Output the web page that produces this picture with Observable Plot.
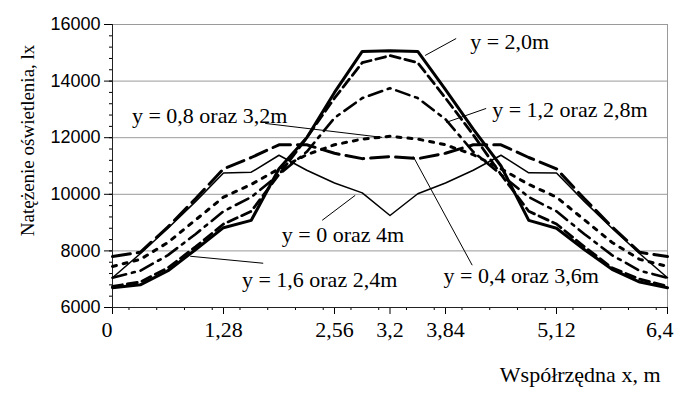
<!DOCTYPE html>
<html><head><meta charset="utf-8">
<script src="https://cdn.jsdelivr.net/npm/d3@7"></script>
<script src="https://cdn.jsdelivr.net/npm/@observablehq/plot@0.6"></script>
<style>
html,body{margin:0;padding:0;background:#fff;}
</style></head><body><div id="chart"></div>
<script>
// x coordinate (m)
const xs = [0, 0.32, 0.64, 0.96, 1.28, 1.6, 1.92, 2.24, 2.56, 2.88, 3.2, 3.52, 3.84, 4.16, 4.48, 4.8, 5.12, 5.44, 5.76, 6.08, 6.4];
// illuminance (lx) for each y
const y20 = [6700, 6800, 7300, 8050, 8820, 9080, 10900, 12000, 13600, 15050, 15070, 15050, 13700, 12300, 11000, 9080, 8800, 8050, 7350, 6900, 6700];
const y16 = [6750, 6900, 7400, 8150, 8950, 9400, 10700, 12000, 13400, 14650, 14900, 14650, 13400, 12100, 10700, 9400, 8950, 8150, 7400, 7000, 6750];
const y12 = [7050, 7300, 7850, 8600, 9400, 9900, 10700, 11500, 12700, 13400, 13750, 13400, 12650, 11500, 10700, 9900, 9400, 8600, 7850, 7300, 7050];
const y08 = [7450, 7700, 8300, 9100, 9900, 10350, 10900, 11400, 11750, 11950, 12050, 11950, 11750, 11400, 10900, 10350, 9900, 9100, 8300, 7700, 7450];
const y04 = [7800, 7950, 8850, 9850, 10900, 11300, 11750, 11750, 11450, 11260, 11330, 11260, 11450, 11750, 11750, 11300, 10900, 9850, 8850, 7950, 7800];
const y00 = [7050, 7900, 8800, 9750, 10750, 10780, 11380, 10850, 10400, 10050, 9250, 10020, 10400, 10850, 11380, 10760, 10750, 9750, 8800, 7900, 7050];

const seriesNames = ["y = 2,0m", "y = 1,6 oraz 2,4m", "y = 1,2 oraz 2,8m", "y = 0,8 oraz 3,2m", "y = 0,4 oraz 3,6m", "y = 0 oraz 4m"];
const seriesValues = [y20, y16, y12, y08, y04, y00];

// axis ticks
const xTickValues = [0, 1.28, 2.56, 3.2, 3.84, 5.12, 6.4];
const xTickLabels = ["0", "1,28", "2,56", "3,2", "3,84", "5,12", "6,4"];
const yTickValues = [6000, 8000, 10000, 12000, 14000, 16000];
const yGridValues = [8000, 10000, 12000, 14000, 16000];
const yMinorTicks = d3.range(6000, 16001, 400);
const xMinorTicks = d3.range(0, 20).map(k => 0.19 + 0.32 * k);

// annotations: label position and leader line (data coordinates)
const annLabels = ["y = 2,0m", "y = 1,2 oraz 2,8m", "y = 0,8 oraz 3,2m", "y = 0 oraz 4m", "y = 1,6 oraz 2,4m", "y = 0,4 oraz 3,6m"];
const annX = [4.124, 4.378, 0.224, 1.953, 1.492, 3.817];
const annY = [15374, 12963, 12769, 8552, 6964, 7122];
const leadX1 = [3.605, 3.848, 1.761, 2.418, 0.896, 3.467];
const leadY1 = [14905, 12540, 12505, 9081, 7811, 11340];
const leadX2 = [3.963, 4.309, 3.110, 2.799, 1.738, 4.148];
const leadY2 = [15505, 13034, 12011, 9964, 7564, 7493];

const xTitle = "Współrzędna x, m";
const yTitle = "Natężenie oświetlenia, lx";

const styles = {
  "y = 2,0m": {w: 3, dash: null},
  "y = 1,6 oraz 2,4m": {w: 2.8, dash: "10,5"},
  "y = 1,2 oraz 2,8m": {w: 2.6, dash: "14,6,3,6"},
  "y = 0,8 oraz 3,2m": {w: 3, dash: "4,7"},
  "y = 0,4 oraz 3,6m": {w: 3, dash: "18,7"},
  "y = 0 oraz 4m": {w: 1.5, dash: null}
};

const rows = seriesNames.flatMap((name, s) => xs.map((x, i) => ({name, x, v: seriesValues[s][i]})));
const anns = annLabels.map((t, i) => ({t, x: annX[i], y: annY[i], x1: leadX1[i], y1: leadY1[i], x2: leadX2[i], y2: leadY2[i]}));
const ticks = xTickValues.map((v, i) => ({v, t: xTickLabels[i]}));

const serif = "Liberation Serif, Times New Roman, serif";
const lineMarks = seriesNames.map(name => Plot.line(rows.filter(d => d.name === name), {
  x: "x", y: "v", stroke: "black", strokeWidth: styles[name].w,
  strokeDasharray: styles[name].dash || undefined
}));

const chart = Plot.plot({
  width: 675, height: 396,
  marginLeft: 112, marginRight: 8, marginTop: 24, marginBottom: 89,
  x: {domain: [0, 6.4]},
  y: {domain: [6000, 16000]},
  style: {background: "white", color: "black", fontFamily: serif},
  marks: [
    Plot.gridY(yGridValues, {stroke: "#9a9a9a", strokeOpacity: 1, strokeWidth: 1}),
    Plot.ruleX([6.4], {stroke: "#9a9a9a"}),
    Plot.axisY({ticks: yMinorTicks, tickSize: 3, tickFormat: () => "", label: null}),
    Plot.axisY({ticks: yTickValues, tickSize: 8, tickPadding: 4, tickFormat: d3.format("d"), fontFamily: "Liberation Sans, Arial, sans-serif", fontSize: 18, label: null}),
    Plot.axisX({ticks: xMinorTicks, tickSize: 3, tickFormat: () => "", label: null}),
    Plot.axisX({ticks: xTickValues, tickSize: 7, tickFormat: () => "", label: null}),
    Plot.ruleY([6000], {stroke: "#222"}),
    Plot.ruleX([0], {stroke: "#222"}),
    ...lineMarks,
    Plot.link(anns, {x1: "x1", y1: "y1", x2: "x2", y2: "y2", stroke: "black", strokeWidth: 1}),
    Plot.text(anns, {x: "x", y: "y", text: "t", textAnchor: "start", fontSize: 22, fontFamily: serif, fill: "black"}),
    Plot.text(ticks.slice(1, 6), {x: "v", text: "t", frameAnchor: "bottom", dy: 29, fontSize: 22, fontFamily: serif, fill: "black"}),
    Plot.text(ticks.slice(0, 1), {x: "v", text: "t", frameAnchor: "bottom", dy: 29, dx: 0, textAnchor: "end", fontSize: 22, fontFamily: serif, fill: "black"}),
    Plot.text(ticks.slice(6), {x: "v", text: "t", frameAnchor: "bottom", dy: 29, dx: 6, textAnchor: "end", fontSize: 22, fontFamily: serif, fill: "black"}),
    Plot.text([xTitle], {frameAnchor: "bottom-right", dx: -7, dy: 74, textAnchor: "end", fontSize: 22, fontFamily: serif, fill: "black"}),
    Plot.text([yTitle], {x: -0.98, y: 11905, rotate: -90, fontSize: 19, fontFamily: serif, fill: "black"})
  ]
});
document.getElementById("chart").appendChild(chart);
</script>
</body></html>
